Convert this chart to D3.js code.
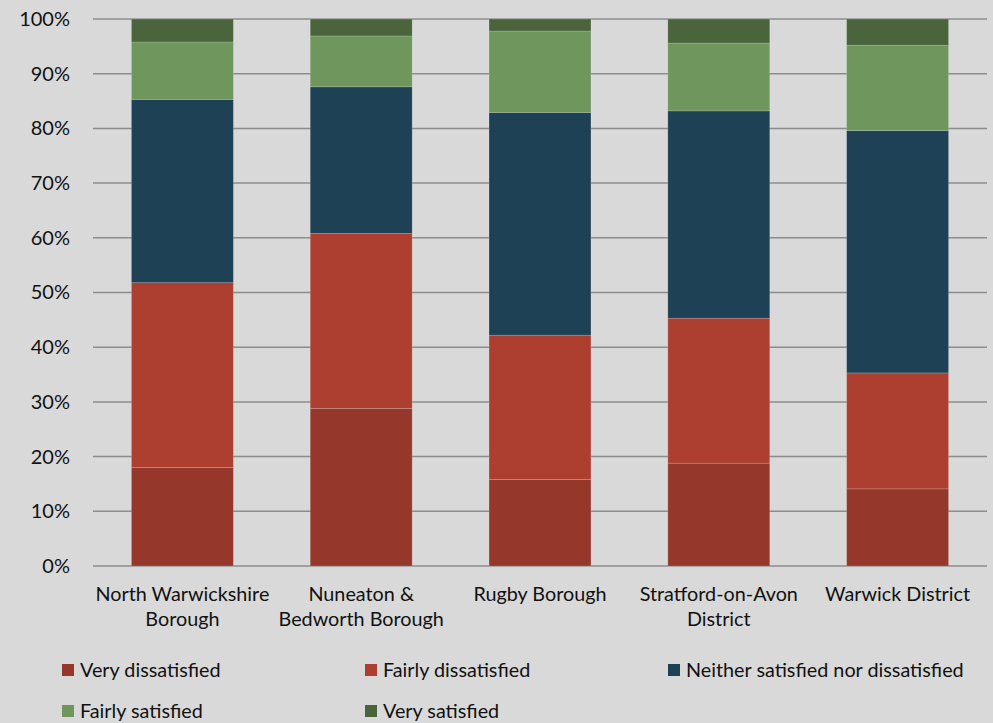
<!DOCTYPE html>
<html>
<head>
<meta charset="utf-8">
<script src="https://cdn.jsdelivr.net/npm/d3@7"></script>
<style>
  body { margin: 0; background: #d9d9d9; }
  svg { display: block; font-family: Lato, "Open Sans", sans-serif; }
</style>
</head>
<body>
<div id="chart"></div>
<script>
// Satisfaction by district (percent of respondents)
let districts = ["North Warwickshire Borough", "Nuneaton & Bedworth Borough", "Rugby Borough", "Stratford-on-Avon District", "Warwick District"];
let districtLines = [["North Warwickshire", "Borough"], ["Nuneaton &", "Bedworth Borough"], ["Rugby Borough"], ["Stratford-on-Avon", "District"], ["Warwick District"]];
let seriesNames = ["Very dissatisfied", "Fairly dissatisfied", "Neither satisfied nor dissatisfied", "Fairly satisfied", "Very satisfied"];
let veryDissatisfied = [18.0, 28.8, 15.8, 18.8, 14.1];
let fairlyDissatisfied = [33.8, 32.0, 26.4, 26.5, 21.2];
let neither = [33.5, 26.8, 40.7, 37.9, 44.3];
let fairlySatisfied = [10.5, 9.3, 14.9, 12.4, 15.6];
let verySatisfied = [4.2, 3.1, 2.2, 4.4, 4.8];
let yTicks = [0, 10, 20, 30, 40, 50, 60, 70, 80, 90, 100];

let colors = ['#96372b', '#ad3f31', '#1f4155', '#6e965d', '#4a643c'];

let drawChart = function(){
    let width = 993, height = 723;
    let margin = {top: 19, right: 6, bottom: 157, left: 93};

    let svg = d3.select('#chart').append('svg')
        .attr('width', width)
        .attr('height', height);

    svg.append('rect').attr('width', width).attr('height', height).attr('fill', '#d9d9d9');

    let xScale = d3.scaleBand()
        .domain(districts)
        .range([margin.left, width - margin.right])
        .paddingInner(0.43)
        .paddingOuter(0.215);

    let yScale = d3.scaleLinear()
        .domain([0, 100])
        .range([height - margin.bottom, margin.top]);

    // gridlines
    svg.append('g')
        .selectAll('line').data(yTicks).enter().append('line')
        .attr('x1', margin.left).attr('x2', width - margin.right)
        .attr('y1', d => yScale(d)).attr('y2', d => yScale(d))
        .attr('stroke', '#8c8c8c').attr('stroke-width', 1.5);

    // y axis labels
    let yAxis = d3.axisLeft(yScale).tickValues(yTicks).tickSize(0).tickPadding(0)
        .tickFormat(d => d + '%');
    let yG = svg.append('g').attr('transform', 'translate(70,0)').call(yAxis);
    yG.select('.domain').remove();
    yG.selectAll('text').attr('font-size', 20).attr('fill', '#111').attr('font-family', 'Lato, sans-serif');

    // stacked data
    let rows = districts.map((d, i) => ({
        district: d,
        s0: veryDissatisfied[i], s1: fairlyDissatisfied[i], s2: neither[i],
        s3: fairlySatisfied[i], s4: verySatisfied[i]
    }));
    let stack = d3.stack().keys(['s0', 's1', 's2', 's3', 's4']);
    let layers = stack(rows);

    svg.append('g').selectAll('g').data(layers).enter().append('g')
        .attr('fill', (d, i) => colors[i])
        .selectAll('rect').data(d => d).enter().append('rect')
        .attr('x', d => xScale(d.data.district))
        .attr('width', xScale.bandwidth())
        .attr('y', d => yScale(d[1]))
        .attr('height', d => yScale(d[0]) - yScale(d[1]))
        .attr('stroke', 'rgba(255,255,255,0.2)')
        .attr('stroke-width', 0.8);

    // category labels
    let cat = svg.append('g').selectAll('text').data(districts).enter().append('text')
        .attr('x', d => xScale(d) + xScale.bandwidth() / 2)
        .attr('y', 601)
        .attr('text-anchor', 'middle')
        .attr('font-size', 19.8)
        .attr('fill', '#111');
    cat.each(function(d, i){
        let t = d3.select(this);
        districtLines[i].forEach((line, j) => {
            t.append('tspan').attr('x', xScale(d) + xScale.bandwidth() / 2)
                .attr('dy', j === 0 ? 0 : 25).text(line);
        });
    });

    // legend
    let legend = svg.append('g').selectAll('g').data(seriesNames).enter().append('g')
        .attr('transform', (d, i) => 'translate(' + (62 + (i % 3) * 303) + ',' + (664 + Math.floor(i / 3) * 41) + ')');
    legend.append('rect').attr('width', 12).attr('height', 12).attr('fill', (d, i) => colors[i]);
    legend.append('text').text(d => d)
        .attr('x', 18).attr('y', 13)
        .attr('font-size', 19.8).attr('fill', '#111');
};

drawChart();
</script>
</body>
</html>
